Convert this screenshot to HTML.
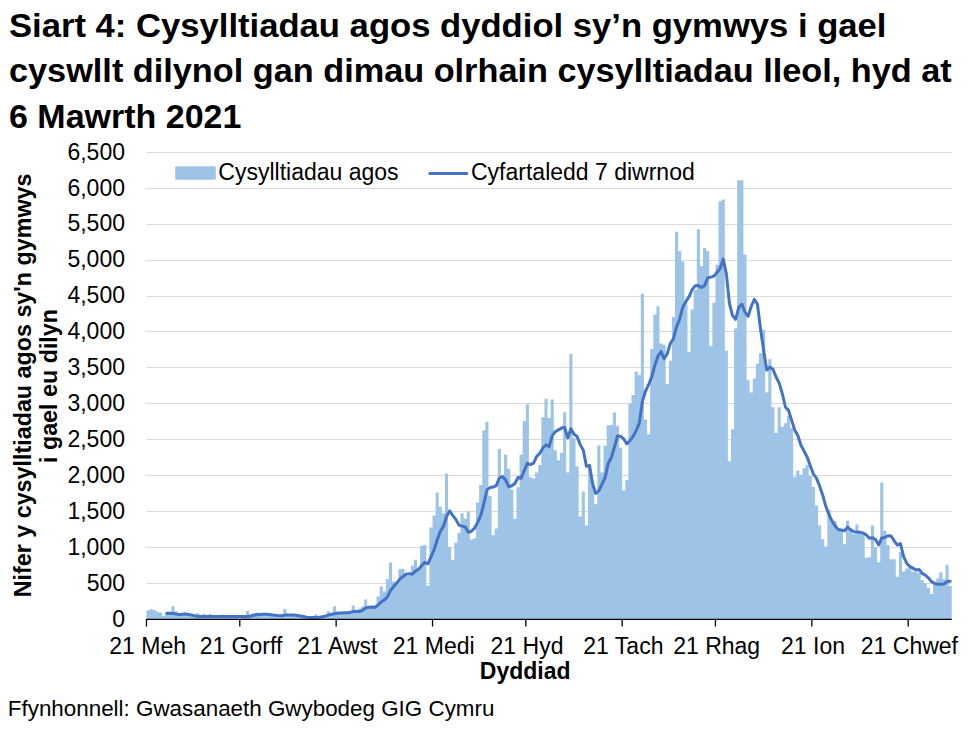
<!DOCTYPE html>
<html><head><meta charset="utf-8"><style>
html,body{margin:0;padding:0;background:#fff;}
body{width:971px;height:734px;overflow:hidden;position:relative;font-family:"Liberation Sans",sans-serif;}
svg{position:absolute;left:0;top:0;}
.t{font-weight:bold;font-size:34px;fill:#000;}
</style></head><body>
<svg width="971" height="734" viewBox="0 0 971 734" font-family="Liberation Sans, sans-serif">
<text class="t" x="9" y="37.4" textLength="877.5" lengthAdjust="spacingAndGlyphs">Siart 4: Cysylltiadau agos dyddiol sy’n gymwys i gael</text>
<text class="t" x="9" y="82.2" textLength="942.7" lengthAdjust="spacingAndGlyphs">cyswllt dilynol gan dimau olrhain cysylltiadau lleol, hyd at</text>
<text class="t" x="9" y="127.5">6 Mawrth 2021</text>
<g stroke="#d9d9d9" stroke-width="1"><line x1="146.5" x2="951.7" y1="583.5" y2="583.5"/><line x1="146.5" x2="951.7" y1="547.5" y2="547.5"/><line x1="146.5" x2="951.7" y1="511.5" y2="511.5"/><line x1="146.5" x2="951.7" y1="475.5" y2="475.5"/><line x1="146.5" x2="951.7" y1="439.5" y2="439.5"/><line x1="146.5" x2="951.7" y1="403.5" y2="403.5"/><line x1="146.5" x2="951.7" y1="367.5" y2="367.5"/><line x1="146.5" x2="951.7" y1="331.5" y2="331.5"/><line x1="146.5" x2="951.7" y1="296.5" y2="296.5"/><line x1="146.5" x2="951.7" y1="260.5" y2="260.5"/><line x1="146.5" x2="951.7" y1="224.5" y2="224.5"/><line x1="146.5" x2="951.7" y1="188.5" y2="188.5"/><line x1="146.5" x2="951.7" y1="152.5" y2="152.5"/></g>
<path d="M146.50,619.3L146.50,610.31L149.61,610.31L149.61,609.30L152.72,609.30L152.72,610.09L155.83,610.09L155.83,611.38L158.94,611.38L158.94,612.39L162.04,612.39L162.04,615.97L165.15,615.97L165.15,613.68L168.26,613.68L168.26,613.54L171.37,613.54L171.37,606.22L174.48,606.22L174.48,611.38L177.59,611.38L177.59,614.76L180.70,614.76L180.70,614.97L183.81,614.97L183.81,612.39L186.92,612.39L186.92,615.97L190.03,615.97L190.03,614.40L193.13,614.40L193.13,615.47L196.24,615.47L196.24,613.18L199.35,613.18L199.35,616.69L202.46,616.69L202.46,613.82L205.57,613.82L205.57,616.69L208.68,616.69L208.68,614.11L211.79,614.11L211.79,616.69L214.90,616.69L214.90,616.69L218.01,616.69L218.01,616.69L221.12,616.69L221.12,614.40L224.22,614.40L224.22,616.69L227.33,616.69L227.33,616.69L230.44,616.69L230.44,616.69L233.55,616.69L233.55,616.69L236.66,616.69L236.66,616.69L239.77,616.69L239.77,616.69L242.88,616.69L242.88,616.69L245.99,616.69L245.99,611.10L249.10,611.10L249.10,616.19L252.21,616.19L252.21,613.18L255.31,613.18L255.31,612.39L258.42,612.39L258.42,614.76L261.53,614.76L261.53,614.47L264.64,614.47L264.64,614.25L267.75,614.25L267.75,614.76L270.86,614.76L270.86,615.11L273.97,615.11L273.97,615.47L277.08,615.47L277.08,615.76L280.19,615.76L280.19,615.90L283.30,615.90L283.30,609.09L286.40,609.09L286.40,615.11L289.51,615.11L289.51,615.11L292.62,615.11L292.62,615.11L295.73,615.11L295.73,615.69L298.84,615.69L298.84,616.19L301.95,616.19L301.95,616.76L305.06,616.76L305.06,617.27L308.17,617.27L308.17,617.27L311.28,617.27L311.28,617.27L314.39,617.27L314.39,614.54L317.50,614.54L317.50,617.27L320.60,617.27L320.60,616.98L323.71,616.98L323.71,616.33L326.82,616.33L326.82,611.17L329.93,611.17L329.93,614.40L333.04,614.40L333.04,606.22L336.15,606.22L336.15,611.53L339.26,611.53L339.26,612.96L342.37,612.96L342.37,613.32L345.48,613.32L345.48,613.32L348.59,613.32L348.59,610.81L351.69,610.81L351.69,605.50L354.80,605.50L354.80,611.53L357.91,611.53L357.91,608.66L361.02,608.66L361.02,606.51L364.13,606.51L364.13,599.41L367.24,599.41L367.24,608.66L370.35,608.66L370.35,607.94L373.46,607.94L373.46,607.94L376.57,607.94L376.57,596.54L379.68,596.54L379.68,586.50L382.78,586.50L382.78,591.59L385.89,591.59L385.89,579.33L389.00,579.33L389.00,562.61L392.11,562.61L392.11,581.48L395.22,581.48L395.22,582.84L398.33,582.84L398.33,569.36L401.44,569.36L401.44,568.71L404.55,568.71L404.55,575.88L407.66,575.88L407.66,575.88L410.76,575.88L410.76,565.84L413.87,565.84L413.87,559.75L416.98,559.75L416.98,568.50L420.09,568.50L420.09,545.76L423.20,545.76L423.20,544.97L426.31,544.97L426.31,585.71L429.42,585.71L429.42,527.47L432.53,527.47L432.53,515.49L435.64,515.49L435.64,492.62L438.75,492.62L438.75,506.82L441.86,506.82L441.86,513.34L444.96,513.34L444.96,473.61L448.07,473.61L448.07,546.98L451.18,546.98L451.18,559.67L454.29,559.67L454.29,542.75L457.40,542.75L457.40,532.92L460.51,532.92L460.51,513.34L463.62,513.34L463.62,518.79L466.73,518.79L466.73,511.62L469.84,511.62L469.84,539.52L472.94,539.52L472.94,538.37L476.05,538.37L476.05,502.44L479.16,502.44L479.16,485.01L482.27,485.01L482.27,430.51L485.38,430.51L485.38,421.76L488.49,421.76L488.49,495.92L491.60,495.92L491.60,535.15L494.71,535.15L494.71,528.62L497.82,528.62L497.82,449.01L500.93,449.01L500.93,475.26L504.04,475.26L504.04,454.46L507.14,454.46L507.14,468.66L510.25,468.66L510.25,489.39L513.36,489.39L513.36,518.79L516.47,518.79L516.47,487.17L519.58,487.17L519.58,454.46L522.69,454.46L522.69,420.90L525.80,420.90L525.80,404.19L528.91,404.19L528.91,477.27L532.02,477.27L532.02,478.49L535.12,478.49L535.12,472.39L538.23,472.39L538.23,465.00L541.34,465.00L541.34,417.17L544.45,417.17L544.45,398.81L547.56,398.81L547.56,417.88L550.67,417.88L550.67,399.52L553.78,399.52L553.78,450.30L556.89,450.30L556.89,460.13L560.00,460.13L560.00,452.74L563.11,452.74L563.11,412.29L566.21,412.29L566.21,472.39L569.32,472.39L569.32,354.12L572.43,354.12L572.43,438.04L575.54,438.04L575.54,466.22L578.65,466.22L578.65,516.50L581.76,516.50L581.76,491.54L584.87,491.54L584.87,525.46L587.98,525.46L587.98,466.22L591.09,466.22L591.09,484.58L594.20,484.58L594.20,504.23L597.31,504.23L597.31,445.42L600.41,445.42L600.41,472.39L603.52,472.39L603.52,445.85L606.63,445.85L606.63,425.27L609.74,425.27L609.74,425.06L612.85,425.06L612.85,412.50L615.96,412.50L615.96,425.63L619.07,425.63L619.07,447.72L622.18,447.72L622.18,490.61L625.29,490.61L625.29,480.07L628.39,480.07L628.39,403.54L631.50,403.54L631.50,394.93L634.61,394.93L634.61,371.62L637.72,371.62L637.72,375.35L640.83,375.35L640.83,293.74L643.94,293.74L643.94,419.46L647.05,419.46L647.05,434.24L650.16,434.24L650.16,349.10L653.27,349.10L653.27,314.54L656.38,314.54L656.38,306.36L659.49,306.36L659.49,343.44L662.59,343.44L662.59,344.66L665.70,344.66L665.70,383.89L668.81,383.89L668.81,360.65L671.92,360.65L671.92,317.05L675.03,317.05L675.03,231.77L678.14,231.77L678.14,251.21L681.25,251.21L681.25,261.39L684.36,261.39L684.36,304.35L687.47,304.35L687.47,352.05L690.58,352.05L690.58,309.44L693.68,309.44L693.68,290.01L696.79,290.01L696.79,229.33L699.90,229.33L699.90,265.91L703.01,265.91L703.01,248.12L706.12,248.12L706.12,251.21L709.23,251.21L709.23,345.88L712.34,345.88L712.34,302.41L715.45,302.41L715.45,264.83L718.56,264.83L718.56,201.15L721.66,201.15L721.66,199.50L724.77,199.50L724.77,350.83L727.88,350.83L727.88,461.20L730.99,461.20L730.99,429.29L734.10,429.29L734.10,328.59L737.21,328.59L737.21,180.28L740.32,180.28L740.32,180.28L743.43,180.28L743.43,254.43L746.54,254.43L746.54,380.23L749.65,380.23L749.65,392.50L752.75,392.50L752.75,378.51L755.86,378.51L755.86,363.81L758.97,363.81L758.97,353.34L762.08,353.34L762.08,329.74L765.19,329.74L765.19,392.50L768.30,392.50L768.30,359.36L771.41,359.36L771.41,407.20L774.52,407.20L774.52,432.95L777.63,432.95L777.63,407.20L780.74,407.20L780.74,426.85L783.85,426.85L783.85,423.19L786.95,423.19L786.95,415.80L790.06,415.80L790.06,428.07L793.17,428.07L793.17,477.05L796.28,477.05L796.28,470.53L799.39,470.53L799.39,474.83L802.50,474.83L802.50,468.30L805.61,468.30L805.61,465.08L808.72,465.08L808.72,475.98L811.83,475.98L811.83,486.88L814.93,486.88L814.93,505.38L818.04,505.38L818.04,525.46L821.15,525.46L821.15,539.16L824.26,539.16L824.26,546.41L827.37,546.41L827.37,509.76L830.48,509.76L830.48,521.73L833.59,521.73L833.59,521.09L836.70,521.09L836.70,530.48L839.81,530.48L839.81,529.34L842.92,529.34L842.92,544.18L846.02,544.18L846.02,520.66L849.13,520.66L849.13,529.34L852.24,529.34L852.24,533.71L855.35,533.71L855.35,524.60L858.46,524.60L858.46,531.56L861.57,531.56L861.57,533.71L864.68,533.71L864.68,557.74L867.79,557.74L867.79,557.24L870.90,557.24L870.90,525.54L874.01,525.54L874.01,546.98L877.12,546.98L877.12,562.18L880.22,562.18L880.22,482.50L883.33,482.50L883.33,530.63L886.44,530.63L886.44,545.12L889.55,545.12L889.55,559.24L892.66,559.24L892.66,559.24L895.77,559.24L895.77,576.67L898.88,576.67L898.88,551.93L901.99,551.93L901.99,571.58L905.10,571.58L905.10,568.50L908.21,568.50L908.21,567.28L911.31,567.28L911.31,571.58L914.42,571.58L914.42,572.08L917.53,572.08L917.53,573.23L920.64,573.23L920.64,580.04L923.75,580.04L923.75,583.49L926.86,583.49L926.86,587.72L929.97,587.72L929.97,593.67L933.08,593.67L933.08,583.49L936.19,583.49L936.19,578.54L939.29,578.54L939.29,572.37L942.40,572.37L942.40,579.25L945.51,579.25L945.51,564.77L948.62,564.77L948.62,586.00L951.73,586.00L951.73,619.3Z" fill="#9dc3e6"/>
<polyline points="166.71,613.32 169.82,613.32 172.93,613.54 176.04,613.89 179.14,614.76 182.25,614.25 185.36,614.04 188.47,614.54 191.58,614.97 194.69,615.83 197.80,616.48 200.91,616.48 204.02,616.48 207.13,616.48 210.23,616.48 213.34,616.48 216.45,616.48 219.56,616.48 222.67,616.48 225.78,616.48 228.89,616.48 232.00,616.48 235.11,616.48 238.22,616.48 241.32,616.48 244.43,616.48 247.54,616.48 250.65,615.97 253.76,615.33 256.87,614.83 259.98,614.54 263.09,614.25 266.20,614.25 269.31,614.54 272.41,614.90 275.52,615.26 278.63,615.54 281.74,615.69 284.85,615.11 287.96,614.90 291.07,614.90 294.18,614.90 297.29,615.47 300.40,615.97 303.50,616.55 306.61,617.12 309.72,617.41 312.83,617.41 315.94,617.41 319.05,617.27 322.16,616.76 325.27,616.12 328.38,615.11 331.49,614.25 334.59,613.68 337.70,613.25 340.81,612.96 343.92,612.82 347.03,612.82 350.14,612.39 353.25,611.60 356.36,611.60 359.47,611.53 362.58,610.24 365.68,607.96 368.79,607.30 371.90,606.89 375.01,607.24 378.12,605.09 381.23,601.93 384.34,599.80 387.45,596.93 390.56,590.35 393.67,586.57 396.77,582.98 399.88,579.10 402.99,576.56 406.10,574.32 409.21,573.82 412.32,574.28 415.43,571.18 418.54,569.13 421.65,565.76 424.76,562.37 427.86,563.77 430.97,556.86 434.08,549.66 437.19,540.07 440.30,531.26 443.41,526.63 446.52,516.44 449.63,510.90 452.74,515.51 455.85,519.40 458.95,525.16 462.06,526.09 465.17,526.87 468.28,532.30 471.39,531.23 474.50,528.19 477.61,522.43 480.72,515.59 483.83,503.75 486.94,489.89 490.04,487.65 493.15,487.02 496.26,485.63 499.37,478.00 502.48,476.60 505.59,480.02 508.70,486.72 511.81,485.79 514.92,483.46 518.03,477.53 521.13,478.31 524.24,470.55 527.35,463.36 530.46,464.59 533.57,463.04 536.68,456.41 539.79,453.24 542.90,447.91 546.01,444.76 549.12,446.72 552.22,435.61 555.33,431.58 558.44,429.83 561.55,428.08 564.66,427.38 567.77,437.89 570.88,428.79 573.99,434.29 577.10,436.56 580.21,444.62 583.31,450.16 586.42,466.33 589.53,465.44 592.64,484.08 595.75,493.54 598.86,490.57 601.97,484.27 605.08,477.74 608.19,463.43 611.30,457.55 614.40,447.25 617.51,436.02 620.62,436.35 623.73,438.95 626.84,443.84 629.95,440.73 633.06,436.43 636.17,430.59 639.28,423.41 642.39,401.41 645.49,391.25 648.60,384.70 651.71,376.92 654.82,365.44 657.93,356.11 661.04,351.55 664.15,358.83 667.26,353.75 670.37,343.23 673.48,338.65 676.58,326.83 679.69,318.95 682.80,307.23 685.91,301.47 689.02,296.92 692.13,289.61 695.24,285.75 698.35,285.40 701.46,287.50 704.57,285.60 707.67,278.01 710.78,277.13 713.89,276.12 717.00,272.53 720.11,268.50 723.22,259.01 726.33,273.69 729.44,303.69 732.55,315.60 735.66,319.34 738.76,307.26 741.87,304.28 744.98,312.13 748.09,316.33 751.20,306.51 754.31,299.26 757.42,304.29 760.53,329.01 763.64,350.36 766.75,370.09 769.85,367.11 772.96,369.21 776.07,376.98 779.18,383.18 782.29,393.68 785.40,407.03 788.51,410.36 791.62,420.18 794.73,430.16 797.84,435.53 800.94,445.19 804.05,451.11 807.16,457.09 810.27,465.69 813.38,474.09 816.49,478.14 819.60,485.99 822.71,495.18 825.82,506.34 828.93,514.51 832.03,521.05 835.14,525.94 838.25,529.52 841.36,530.07 844.47,530.79 847.58,527.11 850.69,529.91 853.80,531.62 856.91,532.12 860.02,532.28 863.12,532.90 866.23,534.84 869.34,538.27 872.45,537.73 875.56,539.62 878.67,544.99 881.78,537.98 884.89,537.54 888.00,535.74 891.11,536.03 894.21,540.84 897.32,545.08 900.43,543.62 903.54,556.34 906.65,563.19 909.76,566.35 912.87,568.12 915.98,569.95 919.09,569.46 922.20,573.48 925.30,575.18 928.41,577.92 931.52,581.69 934.63,583.39 937.74,584.32 940.85,584.19 943.96,584.08 947.07,581.41 950.18,581.16" fill="none" stroke="#4472c4" stroke-width="3" stroke-linejoin="round" stroke-linecap="round"/>
<line x1="146.5" x2="951.7" y1="619.3" y2="619.3" stroke="#000" stroke-width="1.3"/>
<g stroke="#000" stroke-width="1.3"><line x1="146.50" x2="146.50" y1="619" y2="626.5"/><line x1="239.77" x2="239.77" y1="619" y2="626.5"/><line x1="336.15" x2="336.15" y1="619" y2="626.5"/><line x1="432.53" x2="432.53" y1="619" y2="626.5"/><line x1="525.80" x2="525.80" y1="619" y2="626.5"/><line x1="622.18" x2="622.18" y1="619" y2="626.5"/><line x1="715.45" x2="715.45" y1="619" y2="626.5"/><line x1="811.83" x2="811.83" y1="619" y2="626.5"/><line x1="908.21" x2="908.21" y1="619" y2="626.5"/></g>
<g font-size="23" text-anchor="end" fill="#000"><text x="125" y="626.60">0</text><text x="125" y="590.68">500</text><text x="125" y="554.76">1,000</text><text x="125" y="518.84">1,500</text><text x="125" y="482.92">2,000</text><text x="125" y="447.00">2,500</text><text x="125" y="411.08">3,000</text><text x="125" y="375.16">3,500</text><text x="125" y="339.24">4,000</text><text x="125" y="303.32">4,500</text><text x="125" y="267.40">5,000</text><text x="125" y="231.48">5,500</text><text x="125" y="195.56">6,000</text><text x="125" y="159.64">6,500</text></g>
<g font-size="23" text-anchor="middle" fill="#000"><text x="147.70" y="654">21 Meh</text><text x="240.97" y="654">21 Gorff</text><text x="337.35" y="654">21 Awst</text><text x="433.73" y="654">21 Medi</text><text x="527.00" y="654">21 Hyd</text><text x="623.38" y="654">21 Tach</text><text x="716.65" y="654">21 Rhag</text><text x="813.03" y="654">21 Ion</text><text x="909.41" y="654">21 Chwef</text></g>
<text x="525.2" y="679" font-size="23" font-weight="bold" text-anchor="middle">Dyddiad</text>
<g font-size="23.3" font-weight="bold" text-anchor="middle">
<text transform="translate(31.4,385.4) rotate(-90)">Nifer y cysylltiadau agos sy'n gymwys</text>
<text transform="translate(56.8,386) rotate(-90)">i gael eu dilyn</text>
</g>
<rect x="175.2" y="166.2" width="40.6" height="13.6" rx="1.3" fill="#9dc3e6"/>
<text x="218.3" y="179.5" font-size="23">Cysylltiadau agos</text>
<line x1="428.6" x2="467.9" y1="173.5" y2="173.5" stroke="#4472c4" stroke-width="3"/>
<text x="471" y="179.5" font-size="23">Cyfartaledd 7 diwrnod</text>
<text x="7.8" y="716.3" font-size="22.4">Ffynhonnell: Gwasanaeth Gwybodeg GIG Cymru</text>
</svg>
</body></html>
